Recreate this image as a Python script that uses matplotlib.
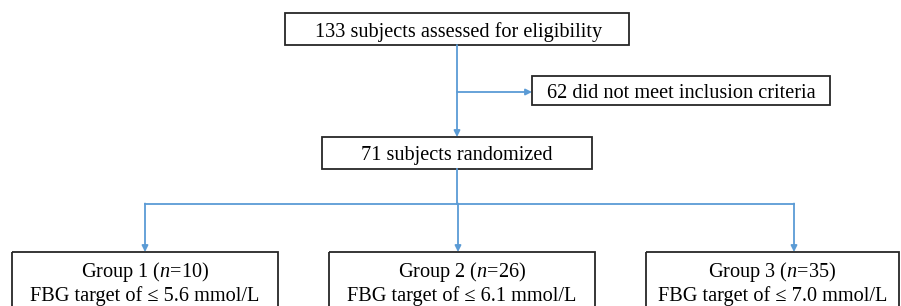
import matplotlib.pyplot as plt
from matplotlib.patches import Rectangle

# flow counts and labels
n_assessed = 133
n_excluded = 62
n_randomized = 71
groups = ["Group 1", "Group 2", "Group 3"]
group_n = [10, 26, 35]
fbg_targets = ["5.6", "6.1", "7.0"]

plt.rcParams['font.family'] = ['Liberation Serif', 'DejaVu Serif']
plt.rcParams['mathtext.fontset'] = 'custom'
plt.rcParams['mathtext.rm'] = 'Liberation Serif'
plt.rcParams['mathtext.it'] = 'Liberation Serif:italic'

fig = plt.figure(figsize=(9.01, 3.06), dpi=100)
ax = fig.add_axes([0, 0, 1, 1])
ax.set_xlim(0, 901)
ax.set_ylim(306, 0)
ax.axis('off')

EDGE = '#262626'
LINE = '#5b9bd5'
FS = 14.6


def box(x0, y0, x1, y1):
    ax.add_patch(Rectangle((x0, y0), x1 - x0, y1 - y0, fill=False,
                           edgecolor=EDGE, linewidth=1.3))


def arrow(x0, y0, x1, y1):
    ax.annotate('', xy=(x1, y1), xytext=(x0, y0),
                arrowprops=dict(arrowstyle='-|>', color=LINE, lw=1.3,
                                mutation_scale=9, shrinkA=0, shrinkB=0))


# top box
box(285, 13, 629, 45)
ax.text(459, 36.5, f"{n_assessed} subjects assessed for eligibility",
        ha='center', va='baseline', fontsize=FS)

# exclusion
box(532, 76, 830, 105)
ax.text(681, 97.5, f"{n_excluded} did not meet inclusion criteria",
        ha='center', va='baseline', fontsize=FS)
arrow(457, 45, 457, 137)
arrow(457, 92, 532, 92)

# randomized
box(322, 137, 592, 169)
ax.text(457, 160, f"{n_randomized} subjects randomized",
        ha='center', va='baseline', fontsize=FS)

# branches
xs = [145, 458, 794]
ax.plot([457, 457], [169, 203.5], color=LINE, lw=1.3)
ax.plot([xs[0], xs[-1]], [203.5, 203.5], color=LINE, lw=1.3)
box_x = [(12, 278), (329, 595), (646, 899)]
for i, x in enumerate(xs):
    arrow(x, 203.5, x, 252)
    x0, x1 = box_x[i]
    box(x0, 252, x1, 330)
    cx = (x0 + x1) / 2
    ax.text(cx, 277, f"{groups[i]} ($\\it{{n}}$={group_n[i]})",
            ha='center', va='baseline', fontsize=FS)
    ax.text(cx, 301.5, f"FBG target of \u2264 {fbg_targets[i]} mmol/L",
            ha='center', va='baseline', fontsize=FS)

plt.savefig('out.png', dpi=100)
